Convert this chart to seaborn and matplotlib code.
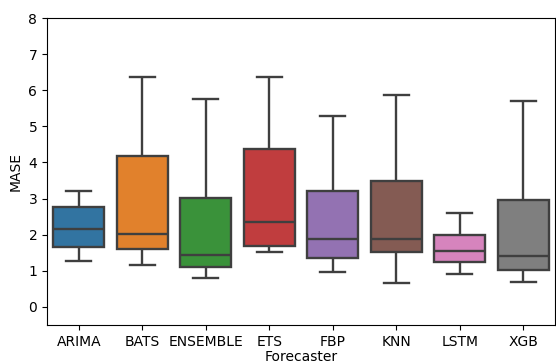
import matplotlib
matplotlib.use("Agg")
import matplotlib.pyplot as plt
import seaborn as sns
import pandas as pd
import numpy as np

forecasters = ["ARIMA", "BATS", "ENSEMBLE", "ETS", "FBP", "KNN", "LSTM", "XGB"]
# five-number summaries: low whisker, Q1, median, Q3, high whisker
lows    = [1.28, 1.15, 0.79, 1.51, 0.97, 0.66, 0.91, 0.69]
q1s     = [1.67, 1.61, 1.10, 1.69, 1.35, 1.53, 1.25, 1.03]
medians = [2.16, 2.02, 1.44, 2.36, 1.89, 1.89, 1.54, 1.41]
q3s     = [2.78, 4.18, 3.03, 4.38, 3.21, 3.49, 1.99, 2.97]
highs   = [3.22, 6.37, 5.75, 6.37, 5.28, 5.88, 2.61, 5.70]

rows = []
for f, a, b, c, d, e in zip(forecasters, lows, q1s, medians, q3s, highs):
    for v in (a, b, c, d, e):
        rows.append({"Forecaster": f, "MASE": v})
df = pd.DataFrame(rows)

fig = plt.figure(figsize=(5.56, 3.63), dpi=100)
ax = fig.add_axes([47/556, 1 - 325/363, 508/556, (325 - 18)/363])
sns.boxplot(data=df, x="Forecaster", y="MASE", hue="Forecaster", order=forecasters,
            legend=False, whis=np.inf, linewidth=1.7, linecolor="#3f3f3f", ax=ax)
ax.set_ylim(-0.5, 8)
ax.set_yticks(range(0, 9))
ax.set_xlabel("Forecaster", labelpad=1)
fig.savefig("out.png", dpi=100)
